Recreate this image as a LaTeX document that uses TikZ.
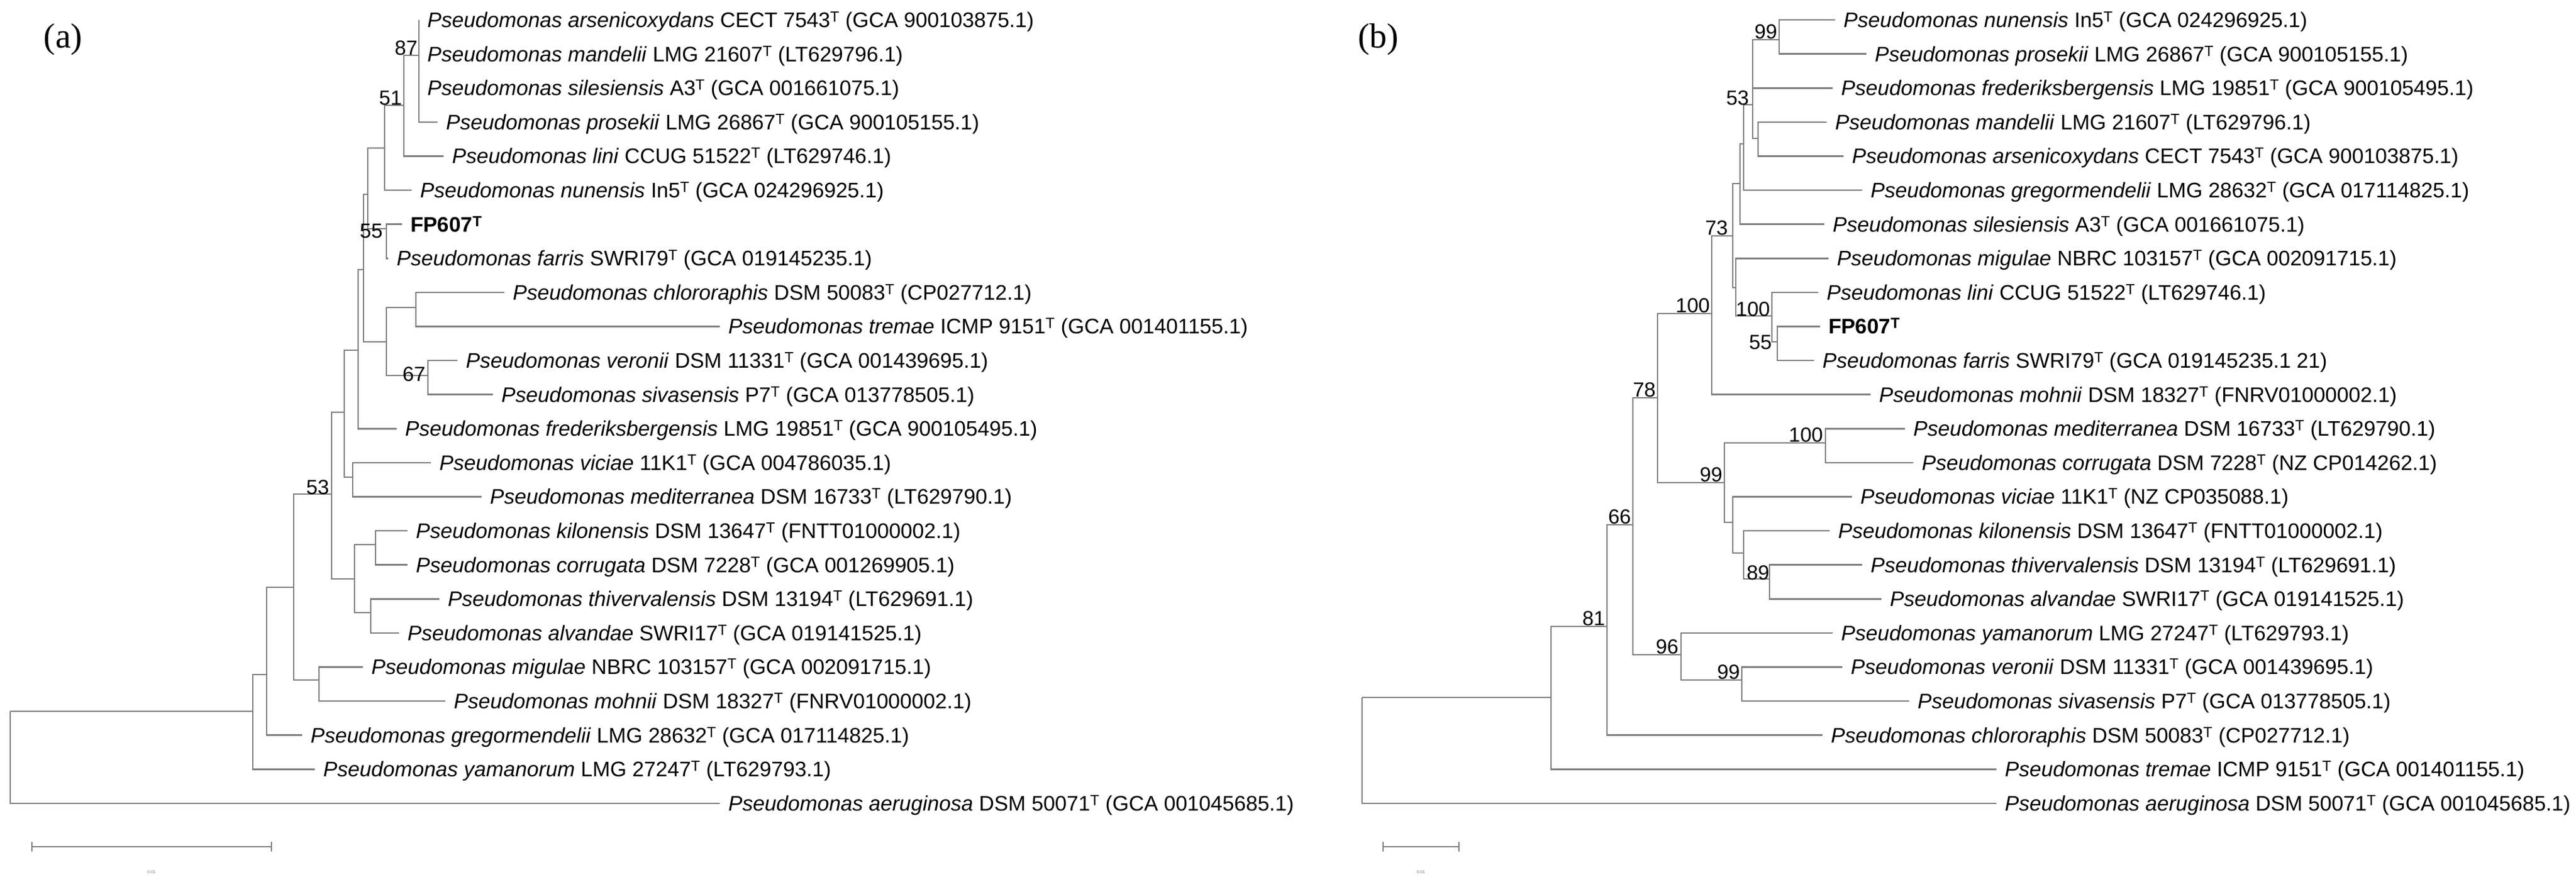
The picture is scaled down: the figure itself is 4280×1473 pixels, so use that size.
\documentclass[tikz,border=0pt]{standalone}
\usepackage{fontspec}
\setmainfont{Liberation Sans}
\newfontfamily\serifpanel{Liberation Serif}
\newcommand\psd[3]{\textit{Pseudomonas #1} #2\textsuperscript{T} (#3)}
\definecolor{br}{RGB}{125,125,125}
\begin{document}
\begin{tikzpicture}[x=1pt,y=-1pt,
  br/.style={draw=br,line width=2.6pt},
  leaf/.style={anchor=west,inner xsep=14pt,inner ysep=0pt,text height=25pt,text depth=0pt,font=\fontsize{35}{40}\selectfont},
  bs/.style={font=\fontsize{34}{40}\selectfont,inner sep=1pt},
  panel/.style={font=\serifpanel\fontsize{58}{64}\selectfont,inner sep=0pt}]
\useasboundingbox (0,0) rectangle (4280,1473);
\node[panel] (pa) at (105,66) {(a)};
\node[panel] (pb) at (2290,66) {(b)};
% ---------- tree (a)
\coordinate (aR) at (17,1182);
\coordinate (aA) at (420,1182);
\coordinate (aB) at (443,1121);
\coordinate (aC) at (488,976);
\coordinate (aE) at (530,1130);
\coordinate (aD) at (551,821);
\coordinate (aG) at (589,962);
\coordinate (aG1) at (624,905);
\coordinate (aG2) at (616,1018);
\coordinate (aF) at (572,685);
\coordinate (aI) at (586,793);
\coordinate (aH) at (595,582);
\coordinate (aS) at (604,448);
\coordinate (aU) at (611,323);
\coordinate (aQ) at (639,246);
\coordinate (a51) at (671,175);
\coordinate (a87) at (696,92);
\coordinate (aFP) at (642,380);
\coordinate (aT) at (642,568);
\coordinate (aCT) at (691,511);
\coordinate (a67) at (711,624);
\node[leaf] (aL0) at (696,33) {\psd{arsenicoxydans}{CECT 7543}{GCA 900103875.1}};
\node[leaf] (aL1) at (696,89.6) {\psd{mandelii}{LMG 21607}{LT629796.1}};
\node[leaf] (aL2) at (696,146.2) {\psd{silesiensis}{A3}{GCA 001661075.1}};
\node[leaf] (aL3) at (727,202.8) {\psd{prosekii}{LMG 26867}{GCA 900105155.1}};
\node[leaf] (aL4) at (737,259.4) {\psd{lini}{CCUG 51522}{LT629746.1}};
\node[leaf] (aL5) at (684,316) {\psd{nunensis}{In5}{GCA 024296925.1}};
\node[leaf] (aL6) at (668,372.6) {\textbf{FP607\textsuperscript{T}}};
\node[leaf] (aL7) at (645,429.2) {\psd{farris}{SWRI79}{GCA 019145235.1}};
\node[leaf] (aL8) at (838,485.8) {\psd{chlororaphis}{DSM 50083}{CP027712.1}};
\node[leaf] (aL9) at (1196,542.4) {\psd{tremae}{ICMP 9151}{GCA 001401155.1}};
\node[leaf] (aL10) at (760,599) {\psd{veronii}{DSM 11331}{GCA 001439695.1}};
\node[leaf] (aL11) at (819,655.6) {\psd{sivasensis}{P7}{GCA 013778505.1}};
\node[leaf] (aL12) at (659,712.2) {\psd{frederiksbergensis}{LMG 19851}{GCA 900105495.1}};
\node[leaf] (aL13) at (716,768.8) {\psd{viciae}{11K1}{GCA 004786035.1}};
\node[leaf] (aL14) at (800,825.4) {\psd{mediterranea}{DSM 16733}{LT629790.1}};
\node[leaf] (aL15) at (677,882) {\psd{kilonensis}{DSM 13647}{FNTT01000002.1}};
\node[leaf] (aL16) at (677,938.6) {\psd{corrugata}{DSM 7228}{GCA 001269905.1}};
\node[leaf] (aL17) at (730,995.2) {\psd{thivervalensis}{DSM 13194}{LT629691.1}};
\node[leaf] (aL18) at (663,1051.8) {\psd{alvandae}{SWRI17}{GCA 019141525.1}};
\node[leaf] (aL19) at (603,1108.4) {\psd{migulae}{NBRC 103157}{GCA 002091715.1}};
\node[leaf] (aL20) at (740,1165) {\psd{mohnii}{DSM 18327}{FNRV01000002.1}};
\node[leaf] (aL21) at (502,1221.6) {\psd{gregormendelii}{LMG 28632}{GCA 017114825.1}};
\node[leaf] (aL22) at (523,1278.2) {\psd{yamanorum}{LMG 27247}{LT629793.1}};
\node[leaf] (aL23) at (1196,1334.8) {\psd{aeruginosa}{DSM 50071}{GCA 001045685.1}};
\draw[br] (aR) |- (aA) (aR) |- (aL23)
  (aA) |- (aB) (aA) |- (aL22)
  (aB) |- (aC) (aB) |- (aL21)
  (aC) |- (aD) (aC) |- (aE)
  (aE) |- (aL19) (aE) |- (aL20)
  (aD) |- (aF) (aD) |- (aG)
  (aG) |- (aG1) (aG) |- (aG2)
  (aG1) |- (aL15) (aG1) |- (aL16)
  (aG2) |- (aL17) (aG2) |- (aL18)
  (aF) |- (aH) (aF) |- (aI)
  (aI) |- (aL13) (aI) |- (aL14)
  (aH) |- (aS) (aH) |- (aL12)
  (aS) |- (aU) (aS) |- (aT)
  (aU) |- (aQ) (aU) |- (aFP)
  (aQ) |- (a51) (aQ) |- (aL5)
  (a51) |- (a87) (a51) |- (aL4)
  (a87) |- (aL0) (a87) |- (aL1) (a87) |- (aL2) (a87) |- (aL3)
  (aFP) |- (aL6) (aFP) |- (aL7)
  (aT) |- (aCT) (aT) |- (a67)
  (aCT) |- (aL8) (aCT) |- (aL9)
  (a67) |- (aL10) (a67) |- (aL11);
\node[bs,anchor=south east] (ba87) at (695,93) {87};
\node[bs,anchor=south east] (ba51) at (669,176) {51};
\node[bs,anchor=east] (ba55) at (637,384) {55};
\node[bs,anchor=east] (ba67) at (708,622) {67};
\node[bs,anchor=south east] (ba53) at (548,823) {53};
\coordinate (sa1) at (53,1407); \coordinate (sa2) at (451,1407);
\draw[br,line width=2pt] (sa1) -- (sa2) ([yshift=-8]sa1) -- ([yshift=8]sa1) ([yshift=-8]sa2) -- ([yshift=8]sa2);
\node[font=\fontsize{7}{8}\selectfont,text=br] (sla) at (252,1449) {0.01};
% ---------- tree (b)
\coordinate (bR) at (2263,1159);
\coordinate (b81) at (2577,1159);
\coordinate (b66) at (2670,1041);
\coordinate (b78) at (2713,872);
\coordinate (b96) at (2793,1088);
\coordinate (b99b) at (2894,1130);
\coordinate (b100a) at (2754,661);
\coordinate (b99a) at (2865,802);
\coordinate (b100c) at (3033,736);
\coordinate (bV) at (2879,868);
\coordinate (bW) at (2897,919);
\coordinate (b89) at (2940,962);
\coordinate (b73) at (2844,521);
\coordinate (bX) at (2879,392);
\coordinate (bY) at (2891,305);
\coordinate (b53) at (2897,239);
\coordinate (bZ2) at (2912,174);
\coordinate (b99) at (2956,66);
\coordinate (bW2) at (2921,230);
\coordinate (bZ) at (2884,478);
\coordinate (b100b) at (2944,525);
\coordinate (b55) at (2953,568);
\node[leaf] (bL0) at (3049,33) {\psd{nunensis}{In5}{GCA 024296925.1}};
\node[leaf] (bL1) at (3101,89.6) {\psd{prosekii}{LMG 26867}{GCA 900105155.1}};
\node[leaf] (bL2) at (3045,146.2) {\psd{frederiksbergensis}{LMG 19851}{GCA 900105495.1}};
\node[leaf] (bL3) at (3035,202.8) {\psd{mandelii}{LMG 21607}{LT629796.1}};
\node[leaf] (bL4) at (3063,259.4) {\psd{arsenicoxydans}{CECT 7543}{GCA 900103875.1}};
\node[leaf] (bL5) at (3094,316) {\psd{gregormendelii}{LMG 28632}{GCA 017114825.1}};
\node[leaf] (bL6) at (3031,372.6) {\psd{silesiensis}{A3}{GCA 001661075.1}};
\node[leaf] (bL7) at (3038,429.2) {\psd{migulae}{NBRC 103157}{GCA 002091715.1}};
\node[leaf] (bL8) at (3021,485.8) {\psd{lini}{CCUG 51522}{LT629746.1}};
\node[leaf] (bL9) at (3024,542.4) {\textbf{FP607\textsuperscript{T}}};
\node[leaf] (bL10) at (3014,599) {\psd{farris}{SWRI79}{GCA 019145235.1 21}};
\node[leaf] (bL11) at (3108,655.6) {\psd{mohnii}{DSM 18327}{FNRV01000002.1}};
\node[leaf] (bL12) at (3165,712.2) {\psd{mediterranea}{DSM 16733}{LT629790.1}};
\node[leaf] (bL13) at (3179,768.8) {\psd{corrugata}{DSM 7228}{NZ CP014262.1}};
\node[leaf] (bL14) at (3077,825.4) {\psd{viciae}{11K1}{NZ CP035088.1}};
\node[leaf] (bL15) at (3040,882) {\psd{kilonensis}{DSM 13647}{FNTT01000002.1}};
\node[leaf] (bL16) at (3094,938.6) {\psd{thivervalensis}{DSM 13194}{LT629691.1}};
\node[leaf] (bL17) at (3126,995.2) {\psd{alvandae}{SWRI17}{GCA 019141525.1}};
\node[leaf] (bL18) at (3045,1051.8) {\psd{yamanorum}{LMG 27247}{LT629793.1}};
\node[leaf] (bL19) at (3061,1108.4) {\psd{veronii}{DSM 11331}{GCA 001439695.1}};
\node[leaf] (bL20) at (3172,1165) {\psd{sivasensis}{P7}{GCA 013778505.1}};
\node[leaf] (bL21) at (3028,1221.6) {\psd{chlororaphis}{DSM 50083}{CP027712.1}};
\node[leaf] (bL22) at (3317,1278.2) {\psd{tremae}{ICMP 9151}{GCA 001401155.1}};
\node[leaf] (bL23) at (3317,1334.8) {\psd{aeruginosa}{DSM 50071}{GCA 001045685.1}};
\draw[br] (bR) |- (b81) (bR) |- (bL23)
  (b81) |- (b66) (b81) |- (bL22)
  (b66) |- (b78) (b66) |- (bL21)
  (b78) |- (b100a) (b78) |- (b96)
  (b96) |- (bL18) (b96) |- (b99b)
  (b99b) |- (bL19) (b99b) |- (bL20)
  (b100a) |- (b73) (b100a) |- (b99a)
  (b99a) |- (b100c) (b99a) |- (bV)
  (b100c) |- (bL12) (b100c) |- (bL13)
  (bV) |- (bL14) (bV) |- (bW)
  (bW) |- (bL15) (bW) |- (b89)
  (b89) |- (bL16) (b89) |- (bL17)
  (b73) |- (bX) (b73) |- (bL11)
  (bX) |- (bY) (bX) |- (bZ)
  (bY) |- (b53) (bY) |- (bL6)
  (b53) |- (bZ2) (b53) |- (bL5)
  (bZ2) |- (b99) (bZ2) |- (bL2) (bZ2) |- (bW2)
  (b99) |- (bL0) (b99) |- (bL1)
  (bW2) |- (bL3) (bW2) |- (bL4)
  (bZ) |- (bL7) (bZ) |- (b100b)
  (b100b) |- (bL8) (b100b) |- (b55)
  (b55) |- (bL9) (b55) |- (bL10);
\node[bs,anchor=south east] (bb99) at (2954,66) {99};
\node[bs,anchor=south east] (bb53) at (2907,176) {53};
\node[bs,anchor=south east] (bb73) at (2872,392) {73};
\node[bs,anchor=south east] (bb100a) at (2842,521) {100};
\node[bs,anchor=south east] (bb100b) at (2942,527) {100};
\node[bs,anchor=north east] (bb55) at (2945,556) {55};
\node[bs,anchor=south east] (bb78) at (2752,661) {78};
\node[bs,anchor=south east] (bb100c) at (3030,736) {100};
\node[bs,anchor=south east] (bb99a) at (2863,802) {99};
\node[bs,anchor=south east] (bb66) at (2711,872) {66};
\node[bs,anchor=south east] (bb89) at (2941,965) {89};
\node[bs,anchor=south east] (bb81) at (2668,1041) {81};
\node[bs,anchor=south east] (bb96) at (2790,1088) {96};
\node[bs,anchor=south east] (bb99b) at (2892,1130) {99};
\coordinate (sb1) at (2298,1407); \coordinate (sb2) at (2424,1407);
\draw[br,line width=2pt] (sb1) -- (sb2) ([yshift=-8]sb1) -- ([yshift=8]sb1) ([yshift=-8]sb2) -- ([yshift=8]sb2);
\node[font=\fontsize{7}{8}\selectfont,text=br] (slb) at (2361,1449) {0.01};
\end{tikzpicture}
\end{document}
